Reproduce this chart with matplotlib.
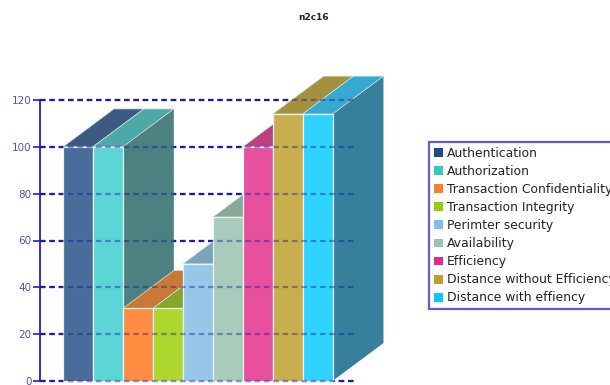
import matplotlib.pyplot as plt
from matplotlib.patches import Patch, Polygon

title = "n2c16"
labels = [
    "Authentication",
    "Authorization",
    "Transaction Confidentiality",
    "Transaction Integrity",
    "Perimter security",
    "Availability",
    "Efficiency",
    "Distance without Efficiency",
    "Distance with effiency",
]
values = [100, 100, 31, 31, 50, 70, 100, 114, 114]
yticks = [0, 20, 40, 60, 80, 100, 120]

front_colors = ["#4A6C9B", "#5BD5D5", "#FF8C40", "#ADD62F", "#96C6E8",
                "#A8CBBB", "#E8509E", "#C8AE4C", "#2FD3FF"]
top_colors = ["#3D5A80", "#4EA8A8", "#C97838", "#87A52A", "#7BA3BE",
              "#8AA89A", "#BC3F80", "#A4903F", "#36A9D0"]
side_colors = ["#3D5A70", "#4D8080", "#A86030", "#6F8F2A", "#6F95AE",
               "#7F9C8E", "#A8407A", "#8F7F3A", "#36809B"]
legend_colors = ["#1F4B85", "#35C9C4", "#FF7F27", "#9BCB0F", "#82BDE6",
                 "#9CC4B2", "#E5288F", "#BFA02E", "#12C5FF"]

axis_blue = "#2020C8"
text_blue = "#5252B8"
grid_dash = [(0, (2.5, 1.7))]

# depth of the fake 3d box, in bar widths and value units
depth_x = 1.7
depth_y = 16.2

fig = plt.figure(figsize=(6.1, 3.85), dpi=100)
ax = fig.add_axes([40 / 610, 4 / 385, 317 / 610, 281 / 385])
ax.set_xlim(-23 / 29.95, 294 / 29.95)
ax.set_ylim(0, 120)

# grid behind the bars
ax.hlines(yticks, *ax.get_xlim(), color=axis_blue, lw=1.6,
          linestyles=grid_dash, zorder=1, clip_on=False)

for i, (val, fc, tc, sc) in enumerate(zip(values, front_colors, top_colors, side_colors)):
    z = 2 + i
    side = [(i + 1, 0), (i + 1 + depth_x, depth_y), (i + 1 + depth_x, val + depth_y), (i + 1, val)]
    top = [(i, val), (i + depth_x, val + depth_y), (i + 1 + depth_x, val + depth_y), (i + 1, val)]
    ax.add_patch(Polygon(side, closed=True, fc=sc, ec="none", zorder=z, clip_on=False))
    ax.add_patch(Polygon(top, closed=True, fc=tc, ec="#D5E8E8", lw=0.5, zorder=z, clip_on=False))
    ax.bar(i, val, width=1, align="edge", color=fc, edgecolor="#E8F4F4", lw=0.9,
           zorder=z, clip_on=False)

# grid shows through the bars
ax.hlines(yticks, *ax.get_xlim(), color="#10109A", lw=1.6, alpha=0.4,
          linestyles=grid_dash, zorder=20, clip_on=False)

for s in ["top", "right", "bottom"]:
    ax.spines[s].set_visible(False)
ax.spines["left"].set_color(axis_blue)
ax.spines["left"].set_linewidth(1.3)
ax.set_xticks([])
ax.set_yticks(yticks)
ax.tick_params(axis="y", colors=axis_blue, length=5, width=1.2, pad=1,
               labelsize=7.5, labelcolor=text_blue)

fig.text(314 / 610, 1 - 17 / 385, title, ha="center", va="center",
         fontsize=6.5, fontweight="bold", color="#222222")

handles = [Patch(fc=c, ec="none") for c in legend_colors]
leg = fig.legend(handles, labels, loc="upper left",
                 bbox_to_anchor=(429 / 610, 1 - 142 / 385), borderaxespad=0,
                 fontsize=8.9, frameon=True, fancybox=False, edgecolor="#3535C0",
                 handlelength=0.73, handleheight=0.73, handletextpad=0.32,
                 labelspacing=0.41, borderpad=0.4, labelcolor="#222233")
leg.get_frame().set_linewidth(1.6)

fig.savefig("out.png", dpi=100)
